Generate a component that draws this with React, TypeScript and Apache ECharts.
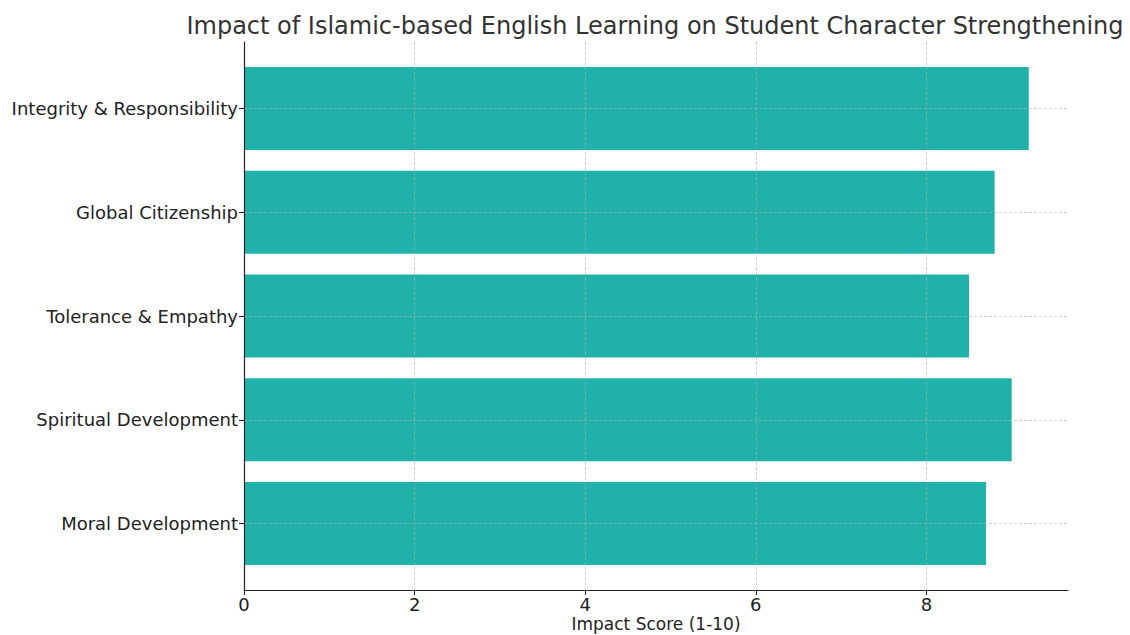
import React, { useEffect, useRef } from "react";
import * as echarts from "echarts";

const TITLE = "Impact of Islamic-based English Learning on Student Character Strengthening";
const X_NAME = "Impact Score (1-10)";
const categories = [
  "Moral Development",
  "Spiritual Development",
  "Tolerance & Empathy",
  "Global Citizenship",
  "Integrity & Responsibility",
];
const scores = [8.7, 9.0, 8.5, 8.8, 9.2];
const X_MAX = 9.66;
const X_INTERVAL = 2;

const FONT = "DejaVu Sans";
const gridLine = {
  show: true,
  showMinLine: false,
  showMaxLine: false,
  lineStyle: { color: "rgba(176,176,176,0.75)", width: 0.8, type: [3, 2] as any },
};

export default function App() {
  const ref = useRef<HTMLDivElement>(null);
  useEffect(() => {
    if (!ref.current) return;
    const chart = echarts.init(ref.current, null, { renderer: "svg" });
    chart.setOption({
      animation: false,
      backgroundColor: "#ffffff",
      textStyle: { fontFamily: FONT },
      graphic: [
        {
          type: "text",
          x: 655,
          y: 26,
          style: {
            text: TITLE,
            fontSize: 24,
            fontFamily: FONT,
            fill: "#333333",
            textAlign: "center",
            textVerticalAlign: "middle",
          },
        },
      ],
      grid: [
        { left: 244, right: 62, top: 42, bottom: 45, outerBoundsMode: "none", containLabel: false },
        { left: 244, right: 62, top: 108.4, bottom: 111.4, outerBoundsMode: "none", containLabel: false },
      ],
      xAxis: [
        {
          gridIndex: 0,
          type: "value",
          min: 0,
          max: X_MAX,
          interval: X_INTERVAL,
          z: 3,
          axisLine: { show: true, lineStyle: { color: "#222", width: 1.2 } },
          axisTick: { show: true, length: 5, lineStyle: { color: "#222", width: 1 } },
          axisLabel: { fontSize: 18, lineHeight: 18, color: "#222", margin: 5, fontFamily: FONT, showMaxLabel: false },
          splitLine: gridLine,
          name: X_NAME,
          nameLocation: "middle",
          nameGap: 25,
          nameMoveOverlap: false,
          nameTextStyle: { fontSize: 17, lineHeight: 18, color: "#222", fontFamily: FONT },
        },
        {
          gridIndex: 1,
          type: "value",
          min: 0,
          max: X_MAX,
          show: false,
        },
      ],
      yAxis: [
        {
          gridIndex: 0,
          type: "value",
          min: 0,
          max: 1,
          z: 3,
          axisLine: { show: true, lineStyle: { color: "#222", width: 1.2 } },
          axisTick: { show: false },
          axisLabel: { show: false },
          splitLine: { show: false },
        },
        {
          gridIndex: 1,
          type: "category",
          data: categories,
          boundaryGap: false,
          z: 3,
          axisLine: { show: false },
          axisTick: { show: true, length: 5, lineStyle: { color: "#222", width: 1 } },
          axisLabel: { fontSize: 18, color: "#222", margin: 6, fontFamily: FONT },
          splitLine: { ...gridLine, showMinLine: true, showMaxLine: true },
        },
      ],
      series: [
        {
          type: "bar",
          xAxisIndex: 1,
          yAxisIndex: 1,
          data: scores,
          barWidth: "80%",
          clip: false,
          itemStyle: { color: "#20B2AA" },
        },
      ],
    });
    return () => chart.dispose();
  }, []);
  return (
    <div
      ref={ref}
      style={{ position: "fixed", left: 0, top: 0, width: 1130, height: 635 }}
    />
  );
}
